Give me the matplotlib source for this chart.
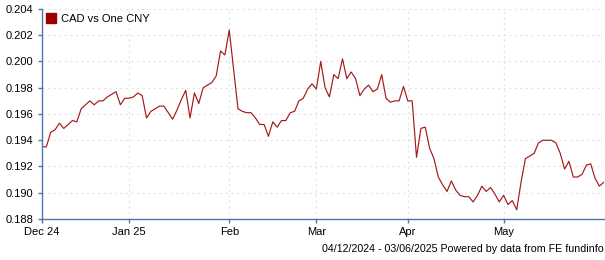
import matplotlib
matplotlib.use("Agg")
import matplotlib.pyplot as plt
from matplotlib.patches import Patch
import pandas as pd

plt.rcParams["font.family"] = ["Liberation Sans", "DejaVu Sans"]

# CAD per one CNY, one value per business day from 04/12/2024 to 03/06/2025
dates = pd.bdate_range("2024-12-04", "2025-06-03")
rates = [
    0.1935, 0.1935, 0.1946, 0.1948, 0.1953, 0.1949, 0.1952, 0.1955, 0.1954, 0.1964,
    0.1967, 0.1970, 0.1967, 0.1970, 0.1970, 0.1973, 0.1975, 0.1977, 0.1967, 0.1972,
    0.1972, 0.1973, 0.1976, 0.1974, 0.1957, 0.1962, 0.1964, 0.1966, 0.1966, 0.1961,
    0.1956, 0.1963, 0.1971, 0.1978, 0.1957, 0.1976, 0.1968, 0.1980, 0.1982, 0.1984,
    0.1989, 0.2008, 0.2005, 0.2024, 0.1994, 0.1964, 0.1962, 0.1961, 0.1961, 0.1957,
    0.1952, 0.1952, 0.1943, 0.1954, 0.1950, 0.1955, 0.1955, 0.1961, 0.1962, 0.1970,
    0.1972, 0.1979, 0.1983, 0.1979, 0.2000, 0.1980, 0.1973, 0.1990, 0.1987, 0.2002,
    0.1987, 0.1992, 0.1987, 0.1974, 0.1979, 0.1982, 0.1977, 0.1979, 0.1990, 0.1972,
    0.1969, 0.1970, 0.1970, 0.1981, 0.1970, 0.1970, 0.1927, 0.1949, 0.1950, 0.1934,
    0.1926, 0.1912, 0.1906, 0.1901, 0.1909, 0.1902, 0.1898, 0.1897, 0.1897, 0.1893,
    0.1898, 0.1905, 0.1901, 0.1904, 0.1899, 0.1893, 0.1898, 0.1891, 0.1894, 0.1887,
    0.1908, 0.1926, 0.1928, 0.1930, 0.1938, 0.1940, 0.1940, 0.1940, 0.1938, 0.1930,
    0.1918, 0.1924, 0.1912, 0.1912, 0.1914, 0.1921, 0.1922, 0.1911, 0.1905, 0.1908,
]
series_label = "CAD vs One CNY"
month_starts = ["2024-12-04", "2025-01-01", "2025-02-03", "2025-03-03", "2025-04-01", "2025-05-01"]
month_labels = ["Dec 24", "Jan 25", "Feb", "Mar", "Apr", "May"]
y_ticks = [0.188, 0.190, 0.192, 0.194, 0.196, 0.198, 0.200, 0.202, 0.204]
footer = "04/12/2024 - 03/06/2025 Powered by data from FE fundinfo"

LINE = "#a31a1a"
AXIS = "#4f78a8"

# x runs on trading-day index, so gaps between months follow business days
pos = list(range(len(dates)))
tick_pos = [dates.get_loc(pd.Timestamp(d)) for d in month_starts]

fig = plt.figure(figsize=(6.05, 2.6), dpi=100)
ax = fig.add_axes([0.0694, 0.1577, 0.9286, 0.8077])

ax.plot(pos, rates, color=LINE, lw=0.85)

ax.set_xlim(0, len(dates) - 1)
ax.set_ylim(0.188, 0.204)
ax.set_xticks(tick_pos)
ax.set_xticklabels(month_labels)
ax.set_yticks(y_ticks)
ax.set_yticklabels([f"{v:.3f}" for v in y_ticks])

ax.grid(True, color="#e3e3e3", linestyle=(0, (2, 3)), lw=0.8)
ax.set_axisbelow(True)
for side in ("top", "right"):
    ax.spines[side].set_visible(False)
for side in ("left", "bottom"):
    ax.spines[side].set_color(AXIS)
    ax.spines[side].set_linewidth(1.0)
ax.tick_params(axis="both", colors="black", labelsize=8, length=3, width=1, pad=3)
ax.tick_params(axis="both", color=AXIS)

ax.legend(
    handles=[Patch(facecolor="#9c0000", edgecolor="#9c0000", label=series_label)],
    loc="upper left", frameon=False, fontsize=8,
    handlelength=0.9, handleheight=0.9, handletextpad=0.4,
    borderaxespad=0.2, borderpad=0.2,
)

fig.text(0.998, 0.025, footer, ha="right", va="bottom", fontsize=7.7)

fig.savefig("out.png", dpi=100)
